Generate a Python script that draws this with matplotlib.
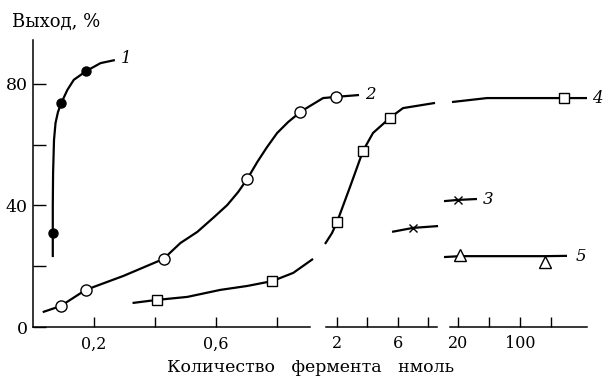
import matplotlib
matplotlib.use('Agg')
import matplotlib.pyplot as plt

plt.rcParams['font.family'] = ['DejaVu Serif']

# --- данные ---
# отрезок оси 1: 0 ... 0,9
c1_line_x = [0.065, 0.065, 0.066, 0.069, 0.074, 0.082, 0.093, 0.113, 0.134, 0.175, 0.222, 0.269]
c1_line_y = [23.0, 40.0, 50.7, 61.5, 67.1, 70.7, 73.7, 78.0, 81.3, 84.2, 86.8, 87.8]
c1_pts_x = [0.065, 0.093, 0.175]
c1_pts_y = [30.9, 73.7, 84.2]

c2_line_x = [0.032, 0.091, 0.173, 0.297, 0.429, 0.484, 0.540, 0.592, 0.638, 0.674, 0.704,
             0.737, 0.769, 0.802, 0.838, 0.878, 0.910, 0.953, 0.996, 1.071]
c2_line_y = [4.9, 6.9, 12.2, 16.8, 22.4, 27.6, 31.3, 35.9, 40.1, 44.4, 48.7,
             54.3, 59.2, 63.8, 67.4, 70.7, 72.7, 75.3, 75.7, 76.3]
c2_pts_x = [0.091, 0.173, 0.429, 0.704, 0.878, 0.996]
c2_pts_y = [6.9, 12.2, 22.4, 48.7, 70.7, 75.7]

c4a_line_x = [0.327, 0.406, 0.507, 0.615, 0.704, 0.786, 0.855, 0.920]
c4a_line_y = [7.9, 8.9, 9.9, 12.2, 13.5, 15.1, 17.8, 22.4]
c4a_pts_x = [0.406, 0.786]
c4a_pts_y = [8.9, 15.1]

# отрезок оси 2: 2 ... 8
c4b_line_x = [1.21, 1.67, 2.0, 2.86, 3.38, 3.71, 4.37, 5.49, 6.35, 8.46]
c4b_line_y = [27.3, 30.9, 34.5, 46.1, 53.3, 57.9, 63.8, 68.8, 72.0, 73.7]
c4b_pts_x = [2.0, 3.71, 5.49]
c4b_pts_y = [34.5, 57.9, 68.8]

c3a_line_x = [5.63, 7.01, 8.66]
c3a_line_y = [31.3, 32.6, 33.2]
c3a_pts_x = [7.01]
c3a_pts_y = [32.6]

# отрезок оси 3: 20 ... 140
c4c_line_x = [12.3, 57.4, 156.8, 186.4]
c4c_line_y = [74.0, 75.3, 75.3, 75.3]
c4c_pts_x = [156.8]
c4c_pts_y = [75.3]

c3b_line_x = [1.94, 20.0, 44.5]
c3b_line_y = [41.4, 41.8, 42.1]
c3b_pts_x = [20.0]
c3b_pts_y = [41.8]

c5_line_x = [1.94, 22.6, 132.2, 160.6]
c5_line_y = [23.0, 23.3, 23.3, 23.4]
c5_pts_x = [22.6, 132.2]
c5_pts_y = [23.7, 21.4]

y_ticks = [0, 20, 40, 60, 80]
y_labels = ['0', '', '40', '', '80']
seg1_ticks = [0.2, 0.4, 0.6, 0.8]
seg1_labels = ['0,2', '', '0,6', '']
seg2_ticks = [2, 4, 6, 8]
seg2_labels = ['2', '', '6', '']
seg3_ticks = [20, 60, 100, 140]
seg3_labels = ['20', '', '100', '']

W, H = 604, 382
fig = plt.figure(figsize=(W / 100, H / 100), dpi=100)

bottom = (H - 327) / H
height = 287 / H
ylim = (0, 94.4)


def make_axes(left_px, right_px, xlim, ticks, labels, first=False):
    ax = fig.add_axes([left_px / W, bottom, (right_px - left_px) / W, height])
    ax.set_xlim(*xlim)
    ax.set_ylim(*ylim)
    ax.patch.set_alpha(0)
    for s in ['top', 'right']:
        ax.spines[s].set_visible(False)
    ax.spines['bottom'].set_linewidth(1.1)
    ax.set_xticks(ticks)
    ax.set_xticklabels(labels)
    ax.tick_params(axis='x', direction='in', length=7, width=1.0, pad=6, labelsize=11.5)
    if first:
        ax.spines['left'].set_linewidth(1.1)
        ax.set_yticks(y_ticks)
        ax.set_yticklabels(y_labels)
        ax.tick_params(axis='y', direction='in', length=9, width=1.0, pad=4, labelsize=12.5)
    else:
        ax.spines['left'].set_visible(False)
        ax.set_yticks([])
    return ax


ax1 = make_axes(33, 310, (0, 0.91), seg1_ticks, seg1_labels, first=True)
ax2 = make_axes(326, 437, (1.275, 8.59), seg2_ticks, seg2_labels)
ax3 = make_axes(450, 587, (9.68, 186.4), seg3_ticks, seg3_labels)

lw = 1.6
kw_line = dict(color='black', lw=lw, clip_on=False, solid_capstyle='butt', solid_joinstyle='round')
kw_open = dict(color='black', mfc='white', mec='black', mew=1.0, ls='none', clip_on=False, zorder=5)
kw_x = dict(color='black', ms=6, mew=1.0, ls='none', clip_on=False, zorder=5)

# кривая 1
ax1.plot(c1_line_x, c1_line_y, **kw_line)
ax1.plot(c1_pts_x, c1_pts_y, 'o', color='black', ms=6.5, ls='none', clip_on=False, zorder=5)
# кривая 2
ax1.plot(c2_line_x, c2_line_y, **kw_line)
ax1.plot(c2_pts_x, c2_pts_y, 'o', ms=8, **kw_open)
# кривая 4
ax1.plot(c4a_line_x, c4a_line_y, **kw_line)
ax1.plot(c4a_pts_x, c4a_pts_y, 's', ms=7, **kw_open)
ax2.plot(c4b_line_x, c4b_line_y, **kw_line)
ax2.plot(c4b_pts_x, c4b_pts_y, 's', ms=7, **kw_open)
ax3.plot(c4c_line_x, c4c_line_y, **kw_line)
ax3.plot(c4c_pts_x, c4c_pts_y, 's', ms=7, **kw_open)
# кривая 3
ax2.plot(c3a_line_x, c3a_line_y, **kw_line)
ax2.plot(c3a_pts_x, c3a_pts_y, 'x', **kw_x)
ax3.plot(c3b_line_x, c3b_line_y, **kw_line)
ax3.plot(c3b_pts_x, c3b_pts_y, 'x', **kw_x)
# кривая 5
ax3.plot(c5_line_x, c5_line_y, **kw_line)
ax3.plot(c5_pts_x, c5_pts_y, '^', ms=8, **kw_open)

# номера кривых
num_kw = dict(fontsize=12, style='italic', va='center', ha='left', clip_on=False)
ax1.text(0.29, 88.3, '1', **num_kw)
ax1.text(1.09, 76.5, '2', **num_kw)
ax3.text(52, 42.0, '3', **num_kw)
ax3.text(193, 75.3, '4', **num_kw)
ax3.text(172, 23.2, '5', **num_kw)

fig.text(12 / W, 1 - 22 / H, 'Выход, %', fontsize=13, ha='left', va='center')
fig.text(311 / W, 1 - 368 / H, 'Количество   фермента   нмоль', fontsize=12.5,
         ha='center', va='center')

fig.savefig('out.png', dpi=100)
